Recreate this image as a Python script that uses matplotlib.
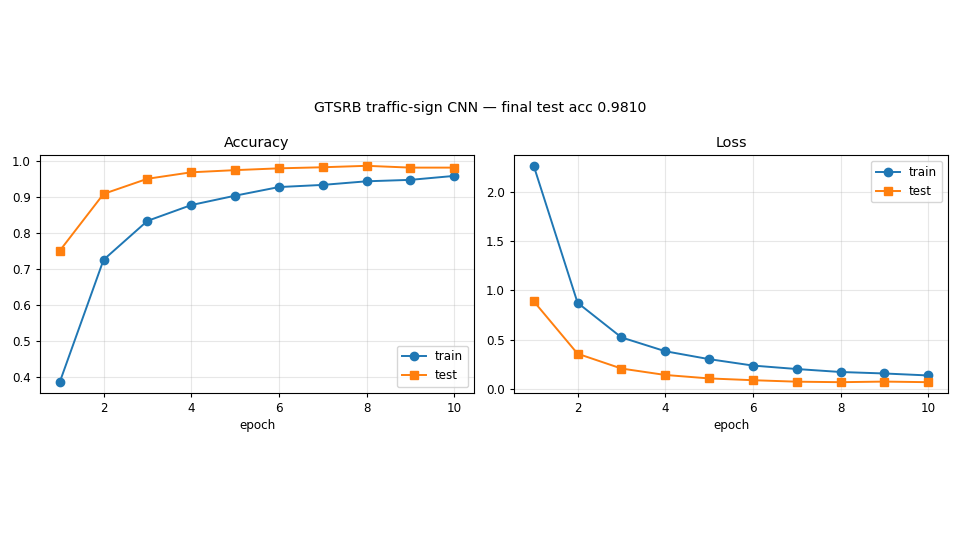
import matplotlib
matplotlib.use("Agg")
import matplotlib.pyplot as plt

epochs = [1, 2, 3, 4, 5, 6, 7, 8, 9, 10]
train_acc = [0.385, 0.725, 0.833, 0.877, 0.903, 0.927, 0.933, 0.943, 0.947, 0.958]
test_acc = [0.750, 0.908, 0.950, 0.968, 0.974, 0.979, 0.982, 0.986, 0.981, 0.981]
train_loss = [2.26, 0.875, 0.525, 0.385, 0.305, 0.240, 0.205, 0.175, 0.160, 0.140]
test_loss = [0.89, 0.360, 0.210, 0.145, 0.110, 0.092, 0.077, 0.072, 0.078, 0.072]
final_acc = 0.9810

s = 0.86
plt.rcParams.update({
    "font.size": 10 * s,
    "lines.linewidth": 1.4,
    "lines.markersize": 6.0,
    "axes.linewidth": 0.8,
    "xtick.major.size": 3.5 * s,
    "ytick.major.size": 3.5 * s,
    "axes.labelpad": 2.5,
})

fig = plt.figure(figsize=(9.6, 5.4), dpi=100)
W, H = 960, 540
ax1 = fig.add_axes([40 / W, 1 - 393 / H, 434 / W, 238 / H])
ax2 = fig.add_axes([514 / W, 1 - 393 / H, 434 / W, 238 / H])

ax1.plot(epochs, train_acc, marker="o", label="train")
ax1.plot(epochs, test_acc, marker="s", label="test")
ax1.set_title("Accuracy", fontsize=12 * s)
ax1.set_xlabel("epoch")
ax1.grid(alpha=0.3)
ax1.legend(loc="lower right")

ax2.plot(epochs, train_loss, marker="o", label="train")
ax2.plot(epochs, test_loss, marker="s", label="test")
ax2.set_title("Loss", fontsize=12 * s)
ax2.set_xlabel("epoch")
ax2.grid(alpha=0.3)
ax2.legend(loc="upper right")

fig.suptitle(f"GTSRB traffic-sign CNN — final test acc {final_acc:.4f}",
             fontsize=12 * 0.85, y=1 - 108 / H, va="center")

fig.savefig("out.png", dpi=100)
